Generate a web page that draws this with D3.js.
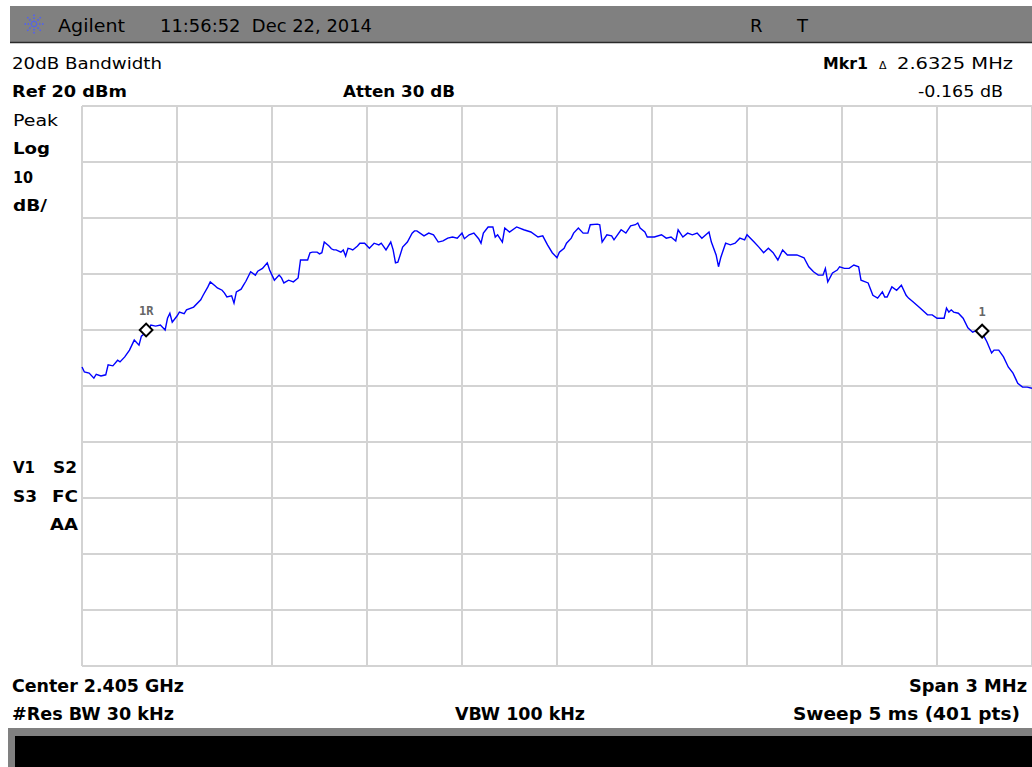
<!DOCTYPE html>
<html>
<head>
<meta charset="utf-8">
<script src="https://cdn.jsdelivr.net/npm/d3@7/dist/d3.min.js"></script>
<style>
  body { margin: 0; background: #fff; }
  svg { display: block; font-family: "DejaVu Sans", "Liberation Sans", Arial, sans-serif; }
</style>
</head>
<body>
<svg id="sa" width="1032" height="767"></svg>
<script>
// sweep point index (0..400) and amplitude in dBm
const traceIdx = [0,1,3,5,6,8,10,11,13,15,16,18,20,22,24,25,27,28,29,31,33,35,36,37,38,40,41,43,44,47,50,51,53,54,56,57,59,60,61,63,64,65,67,68,69,71,73,74,76,78,79,80,81,83,84,85,87,89,91,92,93,95,96,97,
  99,100,101,102,104,105,106,107,109,110,111,112,113,114,116,117,119,121,123,125,126,128,130,131,132,133,135,137,139,140,141,144,146,148,150,152,154,156,158,160,161,163,165,167,168,169,171,173,174,175,177,178,180,183,186,189,192,194,196,198,200,
  201,203,204,206,207,209,211,213,214,217,218,219,221,223,224,227,229,231,233,234,235,237,238,241,244,246,248,250,251,253,255,257,259,261,264,265,267,268,269,271,273,275,277,279,280,283,285,287,289,291,293,295,297,299,301,304,306,308,310,
  312,313,314,316,318,319,321,323,325,327,328,331,333,335,337,338,339,341,343,345,347,348,350,353,356,358,360,363,364,365,366,367,369,371,373,375,377,379,381,383,384,386,388,390,392,394,396,398,400];
const traceDbm = [-26.6,-27.5,-27.7,-28.6,-27.9,-28.2,-28.0,-26.2,-26.4,-25.4,-25.7,-24.8,-23.6,-21.8,-22.7,-21.1,-20.4,-20.0,-19.1,-19.3,-19.1,-20.0,-17.9,-17.0,-18.6,-17.5,-16.8,-17.1,-16.4,-15.9,-14.6,-13.8,-12.3,-11.4,-12.1,-12.5,-12.9,-13.4,-14.1,-13.9,-15.2,-13.2,-12.7,-12.0,-11.3,-9.6,-10.2,-9.5,-9.0,-8.0,-9.3,-10.2,-11.1,-10.2,-10.7,-11.6,-11.1,-11.4,-10.7,-7.5,-7.5,-7.5,-6.2,-6.1,
  -6.1,-6.4,-6.2,-4.3,-5.0,-5.5,-5.7,-5.7,-6.1,-5.7,-6.8,-5.4,-5.5,-5.7,-5.0,-4.5,-4.5,-5.4,-4.5,-4.8,-4.5,-5.7,-4.3,-5.7,-8.0,-7.9,-5.2,-4.3,-2.7,-2.3,-2.3,-3.2,-2.7,-3.0,-4.3,-4.1,-3.6,-3.4,-3.6,-2.7,-3.7,-3.0,-2.7,-3.7,-4.5,-2.7,-1.6,-1.6,-3.4,-3.0,-4.3,-1.8,-2.5,-1.6,-2.1,-2.5,-3.4,-3.2,-4.8,-6.2,-7.1,
  -6.1,-5.4,-4.5,-3.6,-2.7,-1.8,-2.7,-2.7,-1.2,-1.1,-1.2,-4.3,-3.0,-3.2,-3.9,-2.1,-2.7,-1.4,-1.2,-0.9,-1.8,-2.5,-3.4,-3.4,-3.0,-3.6,-3.4,-4.1,-2.1,-3.4,-2.7,-3.0,-2.7,-3.6,-2.5,-4.3,-6.6,-8.7,-7.0,-4.5,-4.8,-4.5,-3.6,-3.9,-3.0,-4.3,-5.2,-6.2,-5.4,-6.2,-7.5,-5.7,-6.6,-6.6,-6.6,-7.1,-8.7,-9.6,-10.2,
  -10.2,-9.0,-11.4,-9.8,-9.3,-8.7,-9.0,-9.0,-8.4,-8.7,-11.1,-11.6,-13.8,-14.3,-13.2,-14.1,-14.1,-12.3,-12.9,-12.0,-13.8,-14.3,-15.0,-16.1,-17.3,-17.3,-17.9,-17.9,-16.1,-16.8,-16.4,-16.8,-17.0,-17.9,-19.6,-20.4,-20.0,-20.5,-22.1,-24.1,-23.6,-23.6,-24.8,-26.6,-27.7,-29.5,-30.2,-30.2,-30.4];

const markerIdx = [27, 379];
const markerDbm = [-20.0, -20.2];
const markerLabels = ["1R", "1"];

const ampTicks = d3.range(-80, 21, 10);   // 10 dB/div, ref 20 dBm
const idxTicks = d3.range(0, 401, 40);    // 10 divisions over 401 pts

const svg = d3.select("#sa");

const x = d3.scaleLinear().domain([0, 400]).range([82, 1032]);
const y = d3.scaleLinear().domain([-80, 20]).range([666, 106]);

// header bar
svg.append("rect").attr("x", 10).attr("y", 6).attr("width", 1022).attr("height", 36).attr("fill", "#808080");
svg.append("line").attr("x1", 10).attr("x2", 1032).attr("y1", 42.5).attr("y2", 42.5)
    .attr("stroke", "#2a2a2a").attr("stroke-width", 1.5);

// agilent spark logo
const logo = svg.append("g").attr("transform", "translate(34,24)");
d3.range(0, 8).forEach(i => {
    const a = i * Math.PI / 4;
    logo.append("line")
        .attr("x1", Math.cos(a) * 2).attr("y1", Math.sin(a) * 2)
        .attr("x2", Math.cos(a) * 10).attr("y2", Math.sin(a) * 10)
        .attr("stroke", "#4a5cff").attr("stroke-width", 1.5)
        .attr("stroke-dasharray", "1.5,1.5");
});

// text helper, len = width it takes on the screen
function txt(str, tx, ty, size, weight, len) {
    const t = svg.append("text").attr("x", tx).attr("y", ty)
        .attr("font-size", size).attr("font-weight", weight || "normal")
        .attr("fill", "#000").attr("xml:space", "preserve").text(str);
    if (len) t.attr("textLength", len).attr("lengthAdjust", "spacingAndGlyphs");
    return t;
}

txt("Agilent", 58, 32, 18, null, 67);
txt("11:56:52  Dec 22, 2014", 160, 32, 17, null, 212);
txt("R", 750, 32, 18);
txt("T", 797, 32, 18);

txt("20dB Bandwidth", 12, 69, 16, null, 150);
txt("Ref 20 dBm", 12, 97, 16, "bold", 115);
txt("Atten 30 dB", 343, 97, 16, "bold", 112);

txt("Mkr1", 823, 69, 16, "bold", 45);
txt("\u0394", 879, 69, 11);
txt("2.6325 MHz", 897, 69, 16, null, 116);
txt("-0.165 dB", 918, 97, 16, null, 85);

txt("Peak", 13, 126, 16, null, 45);
txt("Log", 13, 154, 16, "bold", 37);
txt("10", 13, 183, 16, "bold", 20);
txt("dB/", 13, 211, 16, "bold", 34);
txt("V1", 13, 473, 16, "bold", 22);
txt("S2", 53, 473, 16, "bold", 24);
txt("S3", 13, 502, 16, "bold", 24);
txt("FC", 52, 502, 16, "bold", 26);
txt("AA", 50, 530, 16, "bold", 28);

// graticule
const grid = svg.append("g").attr("stroke", "#d3d3d3").attr("stroke-width", 2);
grid.selectAll("line.h").data(ampTicks).join("line").attr("class", "h")
    .attr("x1", x(0)).attr("x2", x(400)).attr("y1", d => y(d)).attr("y2", d => y(d));
grid.selectAll("line.v").data(idxTicks).join("line").attr("class", "v")
    .attr("x1", d => x(d)).attr("x2", d => x(d)).attr("y1", y(20)).attr("y2", y(-80));

// trace
const pts = traceIdx.map((d, i) => [d, traceDbm[i]]);
svg.append("path").datum(pts)
    .attr("fill", "none").attr("stroke", "#0000ff").attr("stroke-width", 1.4)
    .attr("d", d3.line().x(d => x(d[0])).y(d => y(d[1])));

// markers
const mg = svg.selectAll("g.mkr").data(markerIdx).join("g").attr("class", "mkr")
    .attr("transform", (d, i) => `translate(${x(d)},${y(markerDbm[i])})`);
mg.append("rect").attr("x", -4.5).attr("y", -4.5).attr("width", 9).attr("height", 9)
    .attr("transform", "rotate(45)").attr("fill", "#fff").attr("stroke", "#000").attr("stroke-width", 2);
mg.append("text").attr("y", -15).attr("x", (d, i) => i === 0 ? 0 : 0).attr("text-anchor", "middle")
    .attr("font-family", "DejaVu Sans Mono, monospace").attr("font-size", 12).attr("font-weight", "bold")
    .attr("fill", "#666").text((d, i) => markerLabels[i]);

// footer
txt("Center 2.405 GHz", 12, 692, 17, "bold", 172);
txt("Span 3 MHz", 909, 692, 17, "bold", 118);
txt("#Res BW 30 kHz", 12, 720, 17, "bold", 162);
txt("VBW 100 kHz", 455, 720, 17, "bold", 130);
txt("Sweep 5 ms (401 pts)", 793, 720, 17, "bold", 227);

svg.append("rect").attr("x", 8).attr("y", 728).attr("width", 1024).attr("height", 39).attr("fill", "#808080");
svg.append("rect").attr("x", 15).attr("y", 736).attr("width", 1017).attr("height", 31).attr("fill", "#000");
</script>
</body>
</html>
